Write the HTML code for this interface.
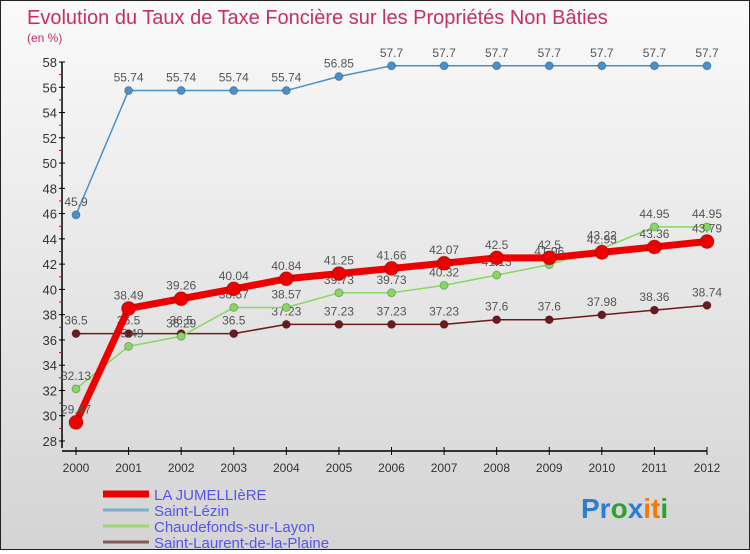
<!DOCTYPE html>
<html><head><meta charset="utf-8"><style>
body{margin:0}
#wrap{width:748px;height:548px;border:1px solid #222;background:linear-gradient(#fafafa,#d4d4d4);position:relative;font-family:"Liberation Sans",sans-serif}
svg text{font-family:"Liberation Sans",sans-serif}
</style></head><body>
<div id="wrap">
<svg id="chart" width="748" height="548"></svg>
</div>
<script>
const years=[2000,2001,2002,2003,2004,2005,2006,2007,2008,2009,2010,2011,2012];
const yTicks=[28,30,32,34,36,38,40,42,44,46,48,50,52,54,56,58];
const jumelliere=[29.47,38.49,39.26,40.04,40.84,41.25,41.66,42.07,42.5,42.5,42.93,43.36,43.79];
const saintLezin=[45.9,55.74,55.74,55.74,55.74,56.85,57.7,57.7,57.7,57.7,57.7,57.7,57.7];
const chaudefonds=[32.13,35.49,36.29,38.57,38.57,39.73,39.73,40.32,41.13,41.96,43.22,44.95,44.95];
const saintLaurent=[36.5,36.5,36.5,36.5,37.23,37.23,37.23,37.23,37.6,37.6,37.98,38.36,38.74];
const NS="http://www.w3.org/2000/svg";
const svg=document.getElementById('chart');
function xs(i){return 75+i*(706-75)/(years.length-1);}
function ys(v){return 440-(v-28)*(440-61)/30;}
function el(t,a,p){const e=document.createElementNS(NS,t);for(const k in a)e.setAttribute(k,a[k]);(p||svg).appendChild(e);return e;}
function txt(x,y,s,a){const e=el('text',Object.assign({x:x,y:y},a||{}));e.textContent=s;return e;}
let t=txt(26,23,"Evolution du Taux de Taxe Foncière sur les Propriétés Non Bâties",{fill:'#c8305e','font-size':20});

t=txt(26,41,"(en %)",{fill:'#c8305e','font-size':12});

let ax=el('line',{x1:61,y1:61,x2:61,y2:447,stroke:'#000','stroke-width':1.5});

yTicks.forEach(v=>{const y=ys(v);el('line',{x1:58,y1:y,x2:64,y2:y,stroke:'#000'});
const tl=txt(56,y+5,String(v),{'text-anchor':'end','font-size':13,fill:'#333'});

if(v<58)el('line',{x1:58,y1:ys(v+1),x2:61,y2:ys(v+1),stroke:'#e00'});});
ax=el('line',{x1:61,y1:450,x2:706,y2:450,stroke:'#000','stroke-width':1.5});

years.forEach((yr,i)=>{const x=xs(i);el('line',{x1:x,y1:446,x2:x,y2:454,stroke:'#000'});
const tl=txt(x,471,String(yr),{'text-anchor':'middle','font-size':12,fill:'#333'});
});
function series(data,color,w,r,name){
const g=el('g',{});
el('polyline',{points:data.map((v,i)=>xs(i)+','+ys(v)).join(' '),fill:'none',stroke:color,'stroke-width':w,'stroke-linejoin':'round'},g);
data.forEach((v,i)=>{const c=el('circle',{cx:xs(i),cy:ys(v),r:r,fill:color,stroke:'rgba(0,0,0,0.25)'},g);

const l=txt(xs(i),ys(v)-9,String(v),{'text-anchor':'middle','font-size':12,fill:'#555'},g);
});}
series(saintLaurent,'#6b1a1e',1.5,4,'series-saint-laurent');
series(chaudefonds,'#86d860',1.5,4,'series-chaudefonds');
series(saintLezin,'#4a90c8',1.5,4,'series-saint-lezin');
series(jumelliere,'#ee0000',7,7,'series-la-jumelliere');
const leg=[['LA JUMELLIèRE','#ee0000',7],['Saint-Lézin','#7aaed0',3],['Chaudefonds-sur-Layon','#9ad870',3],['Saint-Laurent-de-la-Plaine','#8a5a5a',3]];
leg.forEach((d,i)=>{const y=493+i*16;const g=el('g',{});
el('line',{x1:102,y1:y,x2:148,y2:y,stroke:d[1],'stroke-width':d[2]},g);
txt(153,y+6,d[0],{'font-size':15,fill:'#5555ee'},g);});
const lg=txt(580,517,'',{'font-size':28,'font-weight':'bold'});

[['Pr','#2a7fd0'],['o','#30a030'],['x','#2a7fd0'],['it','#f07a10'],['i','#30a030']].forEach(p=>{const s=el('tspan',{fill:p[1]},lg);s.textContent=p[0];});
</script>
</body></html>
